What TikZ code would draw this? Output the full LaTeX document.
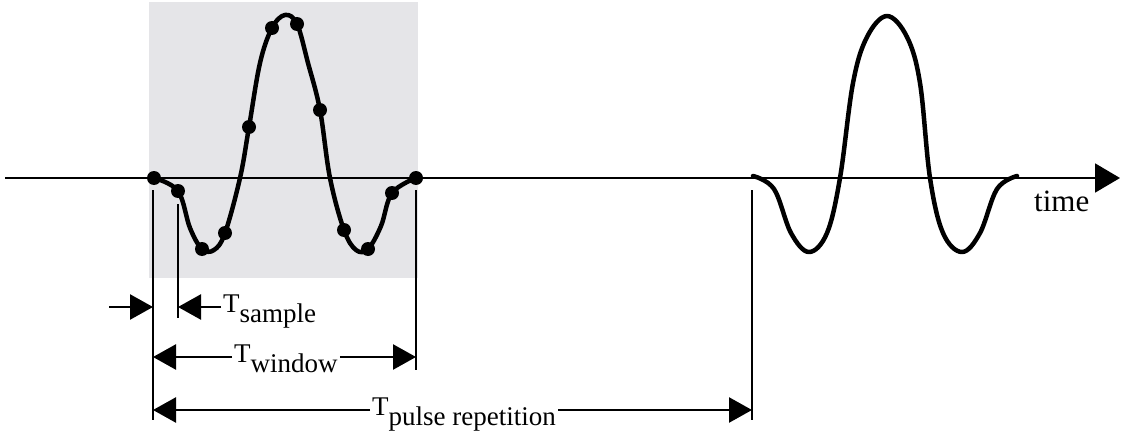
\documentclass[tikz,border=0pt]{standalone}
\usepackage{fontspec}
\setmainfont{Liberation Serif}
\usetikzlibrary{arrows.meta}
\definecolor{boxgray}{RGB}{229,229,232}
\begin{document}
\begin{tikzpicture}[x=1pt,y=-1pt,
  wave/.style={line width=4.5pt, line join=round, line cap=round},
  dot/.style={circle, fill=black, inner sep=0pt, minimum size=14pt},
  axisline/.style={line width=2pt, -{Triangle[length=25pt,width=29pt]}},
  guide/.style={line width=2pt},
  dimarrow/.style={line width=2.5pt, -{Triangle[length=23pt,width=25pt]}},
  lbl/.style={font=\fontsize{27}{30}\selectfont, inner sep=2pt, anchor=base west}
]
\useasboundingbox (0,0) rectangle (1122,436);
% sampling window
\fill[boxgray] (149,2) rectangle (418,278);
% time axis
\coordinate (axL) at (5,178);
\coordinate (axR) at (1120,178);
\draw[axisline] (axL) -- (axR);
\node[lbl, font=\fontsize{31}{34}\selectfont] (time) at (1032,211) {time};
% first pulse (sampled)
\draw[wave] plot[smooth, tension=0.6] coordinates {
 (154,178) (178,191) (190,228) (202,249) (214,250) (225,233) (240,178)
 (249,127) (260,63) (272,28) (285,15) (297,24) (308,63) (320,110)
 (330,178) (344,230) (356,250) (368,249) (381,226) (392,193) (416,178)};
\foreach \i/\p in {1/{154,178},2/{178,191},3/{202,249},4/{225,233},5/{249,127},6/{272,28},
                   7/{297,24},8/{320,110},9/{344,230},10/{368,249},11/{392,193},12/{416,178}}
  \node[dot] (s\i) at (\p) {};
% second pulse
\draw[wave] plot[smooth, tension=0.6] coordinates {
 (753,176) (774,189) (791,233) (809,252) (827,233) (840,178)
 (853,83) (867,37) (887,16) (907,37) (920,83) (930,178) (943,233)
 (962,252) (980,233) (997,189) (1017,176)};
% guide lines
\coordinate (g1t) at (153,190); \coordinate (g1b) at (153,420);
\coordinate (g2t) at (178,204); \coordinate (g2b) at (178,318);
\coordinate (g3t) at (416,190); \coordinate (g3b) at (416,370);
\coordinate (g4t) at (752,190); \coordinate (g4b) at (752,420);
\draw[guide] (g1t) -- (g1b);
\draw[guide] (g2t) -- (g2b);
\draw[guide] (g3t) -- (g3b);
\draw[guide] (g4t) -- (g4b);
% T_sample
\coordinate (sL) at (109,307);
\coordinate (sA) at (153,307);
\coordinate (sB) at (178,307);
\node[lbl] (ls) at (221,312) {T\raisebox{-10pt}{sample}};
\draw[dimarrow] (sL) -- (sA);
\draw[dimarrow] (ls.west |- sB) -- (sB);
% T_window
\coordinate (wA) at (153,357);
\coordinate (wB) at (416,357);
\node[lbl] (lw) at (232,362) {T\raisebox{-10pt}{window}};
\draw[dimarrow] (lw.west |- wA) -- (wA);
\draw[dimarrow] (lw.east |- wB) -- (wB);
% T_pulse repetition
\coordinate (pA) at (153,410);
\coordinate (pB) at (752,410);
\node[lbl] (lp) at (370,415) {T\raisebox{-10pt}{pulse repetition}};
\draw[dimarrow] (lp.west |- pA) -- (pA);
\draw[dimarrow] (lp.east |- pB) -- (pB);
\end{tikzpicture}
\end{document}
